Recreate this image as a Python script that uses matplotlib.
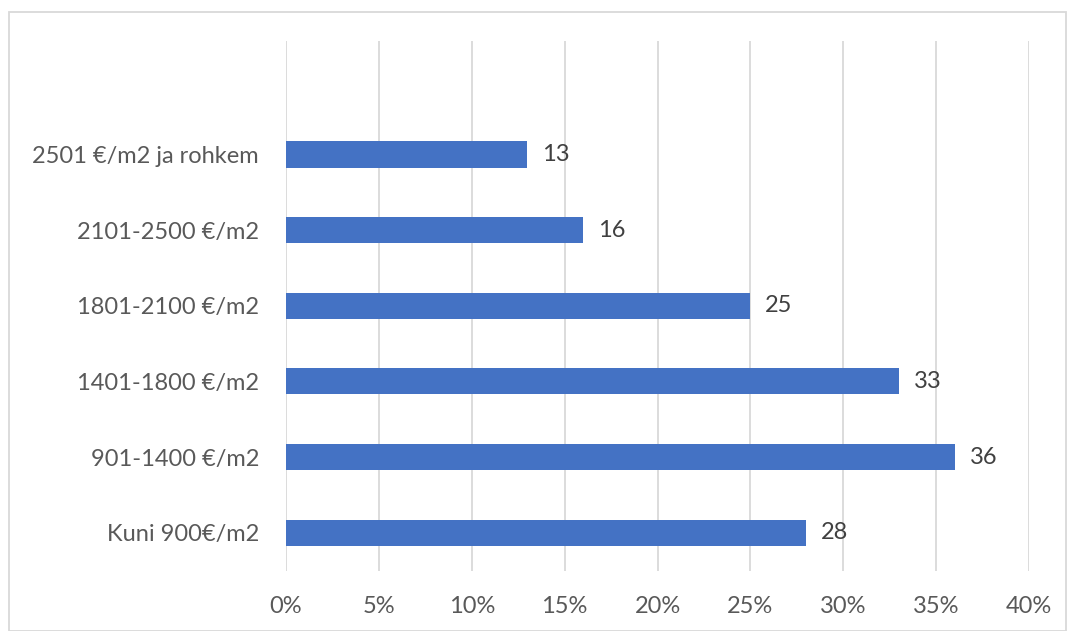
import matplotlib.pyplot as plt
from matplotlib.patches import Rectangle
from matplotlib.ticker import FuncFormatter

plt.rcParams['font.family'] = ['Lato', 'DejaVu Sans']

# hinnaklassid alt üles
categories = ['Kuni 900€/m2', '901-1400 €/m2', '1401-1800 €/m2',
              '1801-2100 €/m2', '2101-2500 €/m2', '2501 €/m2 ja rohkem']
values = [28, 36, 33, 25, 16, 13]
x_ticks = [0, 5, 10, 15, 20, 25, 30, 35, 40]

BAR = '#4472C4'
GRID = '#D9D9D9'
TXT = '#595959'
FS = 17

W, H = 1068, 631
fig = plt.figure(figsize=(W / 100, H / 100), dpi=100)

# raam ümber joonise
fig.patches.append(Rectangle((9 / W, 0), 1 - 11 / W, 1 - 12 / H,
                             transform=fig.transFigure, fill=False,
                             edgecolor=GRID, linewidth=1.3))

ax = fig.add_axes([286 / W, 1 - 570.5 / H, (1029 - 286) / W, 529.5 / H])
y = list(range(len(categories)))
ax.barh(y, values, height=0.345, color=BAR, zorder=3)

for yi, v in zip(y, values):
    ax.text(v + 0.8, yi, str(v), va='center', ha='left', fontsize=FS,
            color='#404040')

ax.set_xlim(0, 40)
ax.set_ylim(-0.5, 6.5)
ax.set_xticks(x_ticks)
ax.xaxis.set_major_formatter(FuncFormatter(lambda v, p: f'{v:.0f}%'))
ax.set_yticks(y)
ax.set_yticklabels(categories)
ax.grid(axis='x', color=GRID, linewidth=1.3, zorder=0)
for s in ax.spines.values():
    s.set_visible(False)
ax.tick_params(axis='both', length=0, labelsize=FS, labelcolor=TXT)
ax.tick_params(axis='x', pad=18.5)
ax.tick_params(axis='y', pad=19.5)

fig.savefig('out.png', dpi=100)
